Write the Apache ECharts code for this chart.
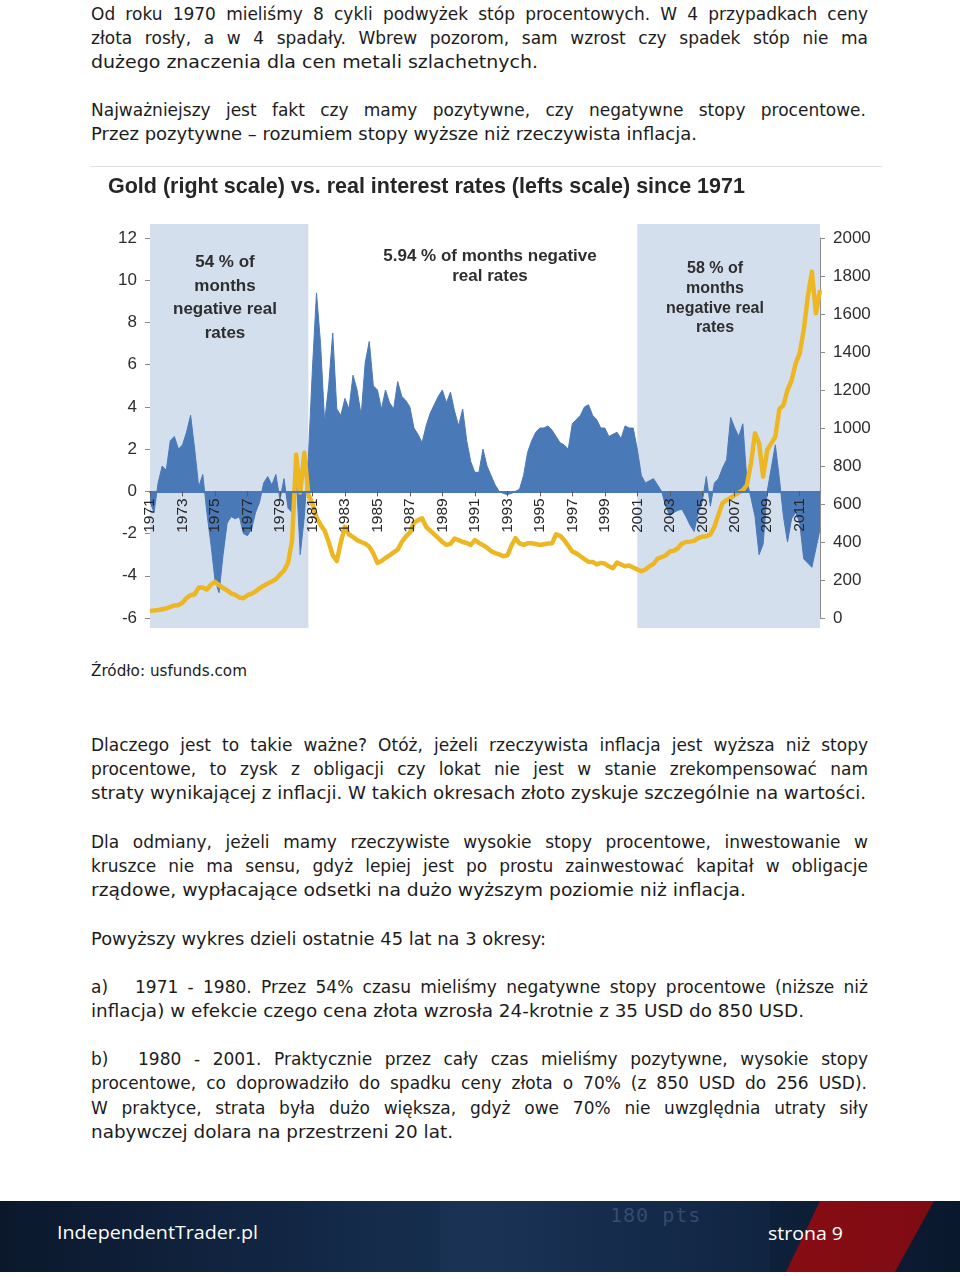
<!DOCTYPE html>
<html lang="pl">
<head>
<meta charset="utf-8">
<title>Gold vs real interest rates</title>
<script src="https://cdn.jsdelivr.net/npm/echarts@6/dist/echarts.min.js"></script>
<style>
  html, body { margin:0; padding:0; background:#fff; }
  body { width:960px; height:1276px; position:relative; overflow:hidden; }
  .ln { position:absolute; left:91px; font-family:"DejaVu Sans", sans-serif; font-size:17px; line-height:24px; color:#1c1c1c; white-space:nowrap; }
  .ln .t { display:inline-block; white-space:nowrap; transform-origin:0 0; }
  .ln .lab { display:inline-block; }
  .src { font-size:15px; line-height:20px; }
  #sep { position:absolute; left:90px; top:166px; width:792px; height:1px; background:#e2e2e2; }
  #chart { position:absolute; left:90px; top:160px; width:800px; height:480px; }
  #footer { position:absolute; left:0; top:1201px; width:960px; height:71px; overflow:hidden;
    background: linear-gradient(90deg, #0b182c 0%, #0f1f38 15%, #132948 35%, #17304f 50%, #122846 65%, #0e213a 80%, #0a182d 100%); }
  #footer .red { position:absolute; left:0; top:0; width:960px; height:71px;
    background: linear-gradient(90deg, #b5141c, #7d0b12);
    clip-path: polygon(820px 0, 934px 0, 895px 71px, 786px 71px); }
  #footer .deco { position:absolute; left:610px; top:2px; font-family:"DejaVu Sans Mono", monospace; font-size:20px; color:rgba(140,165,200,0.28); letter-spacing:1px; }
  #footer .panel { position:absolute; left:440px; top:0; width:330px; height:71px; background:rgba(60,95,150,0.08); }
  #footer .ft { position:absolute; font-family:"Open Sans", sans-serif; color:#fff; white-space:nowrap; }
  #footer .ft .t { display:inline-block; transform-origin:0 0; }
</style>
</head>
<body>
<div class="ln" style="top:2px" data-w="777" data-m="j"><span class="t">Od roku 1970 mieliśmy 8 cykli podwyżek stóp procentowych. W 4 przypadkach ceny</span></div>
<div class="ln" style="top:26px" data-w="777" data-m="j"><span class="t">złota rosły, a w 4 spadały. Wbrew pozorom, sam wzrost czy spadek stóp nie ma</span></div>
<div class="ln" style="top:50px" data-w="447" data-m="n"><span class="t">dużego znaczenia dla cen metali szlachetnych.</span></div>
<div class="ln" style="top:98px" data-w="775" data-m="j"><span class="t">Najważniejszy jest fakt czy mamy pozytywne, czy negatywne stopy procentowe.</span></div>
<div class="ln" style="top:122px" data-w="606" data-m="n"><span class="t">Przez pozytywne – rozumiem stopy wyższe niż rzeczywista inflacja.</span></div>

<div id="sep"></div>
<div id="chart"></div>

<div class="ln src" style="top:661px" data-w="156" data-m="n"><span class="t">Źródło: usfunds.com</span></div>
<div class="ln" style="top:733px" data-w="777" data-m="j"><span class="t">Dlaczego jest to takie ważne? Otóż, jeżeli rzeczywista inflacja jest wyższa niż stopy</span></div>
<div class="ln" style="top:757px" data-w="777" data-m="j"><span class="t">procentowe, to zysk z obligacji czy lokat nie jest w stanie zrekompensować nam</span></div>
<div class="ln" style="top:781px" data-w="775" data-m="n"><span class="t">straty wynikającej z inflacji. W takich okresach złoto zyskuje szczególnie na wartości.</span></div>
<div class="ln" style="top:830px" data-w="777" data-m="j"><span class="t">Dla odmiany, jeżeli mamy rzeczywiste wysokie stopy procentowe, inwestowanie w</span></div>
<div class="ln" style="top:854px" data-w="777" data-m="j"><span class="t">kruszce nie ma sensu, gdyż lepiej jest po prostu zainwestować kapitał w obligacje</span></div>
<div class="ln" style="top:878px" data-w="655" data-m="n"><span class="t">rządowe, wypłacające odsetki na dużo wyższym poziomie niż inflacja.</span></div>
<div class="ln" style="top:927px" data-w="455" data-m="n"><span class="t">Powyższy wykres dzieli ostatnie 45 lat na 3 okresy:</span></div>
<div class="ln" style="top:975px" data-w="777" data-m="j"><span class="t"><span class="lab" style="width:44px">a)</span>1971 - 1980. Przez 54% czasu mieliśmy negatywne stopy procentowe (niższe niż</span></div>
<div class="ln" style="top:999px" data-w="713" data-m="n"><span class="t">inflacja) w efekcie czego cena złota wzrosła 24-krotnie z 35 USD do 850 USD.</span></div>
<div class="ln" style="top:1047px" data-w="777" data-m="j"><span class="t"><span class="lab" style="width:47px">b)</span>1980 - 2001. Praktycznie przez cały czas mieliśmy pozytywne, wysokie stopy</span></div>
<div class="ln" style="top:1071px" data-w="776" data-m="j"><span class="t">procentowe, co doprowadziło do spadku ceny złota o 70% (z 850 USD do 256 USD).</span></div>
<div class="ln" style="top:1096px" data-w="777" data-m="j"><span class="t">W praktyce, strata była dużo większa, gdyż owe 70% nie uwzględnia utraty siły</span></div>
<div class="ln" style="top:1120px" data-w="362" data-m="n"><span class="t">nabywczej dolara na przestrzeni 20 lat.</span></div>

<div id="footer">
  <div class="panel"></div>
  <div class="deco">180 pts</div>
  <div class="red"></div>
  <div class="ft" style="left:57px; top:19px; font-size:19px; line-height:24px;" data-w="201"><span class="t">IndependentTrader.pl</span></div>
  <div class="ft" style="left:768px; top:20px; font-size:18px; line-height:24px;" data-w="75"><span class="t">strona 9</span></div>
</div>

<script>
// ---------------- data ----------------
const startYear = 1971;
const endYear = 2012;
const endQuarter = 2;
const categories = [];
for (let y = startYear; y <= endYear; y++) {
  for (let q = 1; q <= 4; q++) {
    if (y === endYear && q > endQuarter) break;
    categories.push(y + ' Q' + q);
  }
}
const tickYears = ['1971','1973','1975','1977','1979','1981','1983','1985','1987','1989','1991',
                   '1993','1995','1997','1999','2001','2003','2005','2007','2009','2011'];

// real interest rates (left scale, %), quarterly 1971 Q1 .. 2012 Q2
const realRates = [
  -0.5, -1.0, 0.4, 1.2,     // 1971
  1.0, 2.4, 2.6, 2.0,       // 1972
  2.2, 2.8, 3.6, 2.0,       // 1973
  0.2, 0.8, -1.0, -2.5,     // 1974
  -4.2, -4.8, -3.0, -1.5,   // 1975
  -1.2, -1.3, -1.2, -2.0,   // 1976
  -2.1, -1.8, -1.0, -0.5,   // 1977
  0.4, 0.7, 0.3, 0.8,       // 1978
  -0.4, 0.6, -0.8, -1.0,    // 1979
  0.8, -3.0, -1.2, 1.6,     // 1980
  5.8, 9.4, 7.0, 3.3,       // 1981
  5.0, 7.5, 3.9, 3.6,       // 1982
  4.4, 3.9, 5.5, 4.8,       // 1983
  3.6, 6.1, 7.1, 5.0,       // 1984
  4.8, 3.9, 4.8, 4.2,       // 1985
  3.9, 5.2, 4.5, 4.3,       // 1986
  4.0, 3.0, 2.7, 2.3,       // 1987
  3.1, 3.7, 4.1, 4.5,       // 1988
  4.8, 4.2, 4.7, 3.8,       // 1989
  3.1, 3.9, 2.4, 1.4,       // 1990
  0.9, 0.9, 2.0, 1.2,       // 1991
  0.75, 0.3, 0.0, -0.1,     // 1992
  -0.15, -0.1, 0.0, 0.1,    // 1993
  0.75, 1.85, 2.4, 2.8,     // 1994
  3.0, 3.0, 3.1, 2.9,       // 1995
  2.6, 2.3, 2.2, 2.0,       // 1996
  3.2, 3.4, 3.6, 4.0,       // 1997
  4.1, 3.6, 3.4, 3.0,       // 1998
  3.0, 2.6, 2.7, 2.8,       // 1999
  2.5, 3.1, 3.0, 3.0,       // 2000
  2.0, 0.75, 0.4, 0.5,      // 2001
  0.6, 0.3, 0.0, -0.7,      // 2002
  -1.15, -1.0, -0.9, -0.85, // 2003
  -1.2, -1.6, -1.9, -1.0,   // 2004
  -0.5, 0.7, -0.7, 0.4,     // 2005
  0.6, 1.1, 1.5, 3.5,       // 2006
  3.0, 2.6, 3.2, 0.5,       // 2007
  -0.3, -1.2, -3.0, -2.5,   // 2008
  0.0, 1.1, 2.2, 0.6,       // 2009
  -1.2, -2.4, -1.3, -1.0,   // 2010
  -1.5, -3.2, -3.4, -3.6,   // 2011
  -2.7, -1.8                // 2012
];

// gold price (right scale, USD/oz), quarterly 1971 Q1 .. 2012 Q2
const goldPrice = [
  36, 40, 42, 46,           // 1971
  50, 58, 66, 68,           // 1972
  80, 105, 120, 125,        // 1973
  160, 160, 150, 175,       // 1974
  190, 172, 158, 145,       // 1975
  130, 122, 108, 104,       // 1976
  120, 128, 140, 156,       // 1977
  170, 182, 192, 205,       // 1978
  228, 250, 290, 410,       // 1979
  860, 660, 870, 650,       // 1980
  600, 530, 490, 460,       // 1981
  400, 330, 300, 400,       // 1982
  480, 440, 426, 410,       // 1983
  400, 392, 375, 340,       // 1984
  290, 300, 316, 330,       // 1985
  345, 360, 400, 428,       // 1986
  450, 500, 515, 525,       // 1987
  480, 460, 440, 420,       // 1988
  400, 385, 390, 418,       // 1989
  410, 400, 395, 385,       // 1990
  410, 395, 384, 370,       // 1991
  352, 342, 335, 325,       // 1992
  330, 380, 420, 393,       // 1993
  385, 393, 393, 390,       // 1994
  384, 388, 392, 393,       // 1995
  440, 432, 410, 380,       // 1996
  350, 340, 325, 310,       // 1997
  296, 295, 282, 290,       // 1998
  286, 272, 262, 292,       // 1999
  282, 272, 276, 266,       // 2000
  256, 246, 255, 272,       // 2001
  285, 312, 320, 330,       // 2002
  350, 354, 367, 392,       // 2003
  400, 402, 406, 420,       // 2004
  428, 430, 440, 480,       // 2005
  545, 605, 620, 632,       // 2006
  647, 660, 672, 700,       // 2007
  814, 972, 919, 744,       // 2008
  884, 919, 954, 1100,      // 2009
  1120, 1200, 1250, 1340,   // 2010
  1393, 1516, 1691, 1823,   // 2011
  1604, 1726                // 2012
];

// shaded periods of negative real rates
const bandStarts = ['1971 Q1', '2001 Q1'];
const bandEnds   = ['1980 Q4', '2012 Q2'];

const chartTitle = 'Gold (right scale) vs. real interest rates (lefts scale) since 1971';
const noteLeft   = ['54 % of', 'months', 'negative real', 'rates'];
const noteMiddle = ['5.94 % of months negative', 'real rates'];
const noteRight  = ['58 % of', 'months', 'negative real', 'rates'];

// left / right scale ranges
const rateMin = -6, rateMax = 12, rateStep = 2;
const goldMin = 0, goldMax = 2000, goldStep = 200;

// ---------------- styles ----------------
const BLUE = '#4A79B7';
const GOLD = '#EDB723';
const BAND = '#D4DFEE';
const TXT  = '#2e2e2e';
const FONT = '"Liberation Sans", Arial, sans-serif';
const GRID_H = 380;

const isTick = (idx, val) => {
  const v = String(val);
  return v.endsWith('Q1') && tickYears.indexOf(v.slice(0, 4)) >= 0;
};

const bandData = bandStarts.map((s, i) => [categories.indexOf(s), categories.indexOf(bandEnds[i])]);
// x axis sits on the zero line of the rate scale
const zeroOffset = -GRID_H * (0 - rateMin) / (rateMax - rateMin);

const chart = echarts.init(document.getElementById('chart'), null, { renderer: 'canvas' });
chart.setOption({
  animation: false,
  backgroundColor: 'transparent',
  title: {
    text: chartTitle, left: 18, top: 16, padding: 0,
    textStyle: { fontFamily: FONT, fontWeight: 'bold', fontSize: 21.5, color: '#262626' }
  },
  grid: { left: 60, right: 70, top: 78, height: GRID_H, outerBoundsMode: 'none', containLabel: false },
  xAxis: {
    type: 'category', data: categories, boundaryGap: false, position: 'bottom',
    offset: zeroOffset, z: 10,
    axisLine: { show: true, onZero: false, lineStyle: { color: BLUE, width: 2 } },
    axisTick: { show: true, interval: isTick, length: 5, lineStyle: { color: '#5a5a5a', width: 1 } },
    axisLabel: { interval: isTick, rotate: 90, margin: 7, formatter: v => v.slice(0, 4),
                 fontFamily: FONT, fontSize: 15.5, color: '#262626', hideOverlap: false },
    splitLine: { show: false }
  },
  yAxis: [
    { type: 'value', min: rateMin, max: rateMax, interval: rateStep, position: 'left',
      axisLine: { show: true, lineStyle: { color: '#a8a8a8' } },
      axisTick: { show: true, length: 5, lineStyle: { color: '#8a8a8a' } },
      axisLabel: { fontFamily: FONT, fontSize: 17, color: TXT, margin: 13, formatter: v => String(v) },
      splitLine: { show: false } },
    { type: 'value', min: goldMin, max: goldMax, interval: goldStep, position: 'right',
      axisLine: { show: true, lineStyle: { color: '#8c8c8c' } },
      axisTick: { show: true, length: 5, lineStyle: { color: '#8c8c8c' } },
      axisLabel: { fontFamily: FONT, fontSize: 17, color: TXT, margin: 13, formatter: v => String(v) },
      splitLine: { show: false } }
  ],
  series: [
    {
      type: 'custom', name: 'bands', z: 1, clip: false, silent: true,
      xAxisIndex: 0, yAxisIndex: 0,
      data: bandData,
      encode: { x: [0, 1] },
      renderItem: (params, api) => {
        const s = api.coord([api.value(0), 0]);
        const e = api.coord([api.value(1), 0]);
        const cs = params.coordSys;
        return { type: 'rect',
          shape: { x: s[0], y: cs.y - 14, width: e[0] - s[0], height: cs.height + 24 },
          style: { fill: BAND } };
      }
    },
    {
      type: 'line', name: 'Real interest rates', z: 2, yAxisIndex: 0,
      data: realRates, showSymbol: false, symbol: 'none',
      lineStyle: { color: BLUE, width: 1 },
      areaStyle: { color: BLUE, opacity: 1 }
    },
    {
      type: 'line', name: 'Gold', z: 3, yAxisIndex: 1,
      data: goldPrice, showSymbol: false, symbol: 'none',
      lineStyle: { color: GOLD, width: 4.5, join: 'round' }
    }
  ],
  graphic: [
    { type: 'text', z: 100, x: 135, y: 138,
      style: { text: noteLeft.join('\n'), font: 'bold 17px ' + FONT, fill: TXT,
               align: 'center', verticalAlign: 'middle', lineHeight: 23.5 } },
    { type: 'text', z: 100, x: 400, y: 106,
      style: { text: noteMiddle.join('\n'), font: 'bold 17px ' + FONT, fill: TXT,
               align: 'center', verticalAlign: 'middle', lineHeight: 20 } },
    { type: 'text', z: 100, x: 625, y: 138.5,
      style: { text: noteRight.join('\n'), font: 'bold 16px ' + FONT, fill: TXT,
               align: 'center', verticalAlign: 'middle', lineHeight: 19.7 } }
  ]
});

// fit page text lines to the reference line widths
function fitLines() {
  document.querySelectorAll('.ln, .ft').forEach(el => {
    const inner = el.querySelector('.t');
    const target = +el.dataset.w;
    const w = inner.getBoundingClientRect().width;
    if (!w || !target) return;
    if (el.dataset.m === 'j' && w < target) {
      let spaces = 0;
      inner.childNodes.forEach(n => { if (n.nodeType === 3) spaces += (n.textContent.match(/ /g) || []).length; });
      if (spaces > 0) inner.style.wordSpacing = ((target - w) / spaces) + 'px';
    } else {
      inner.style.transform = 'scaleX(' + (target / w) + ')';
    }
  });
}
if (document.fonts && document.fonts.ready) { document.fonts.ready.then(fitLines); } else { fitLines(); }
</script>
</body>
</html>
